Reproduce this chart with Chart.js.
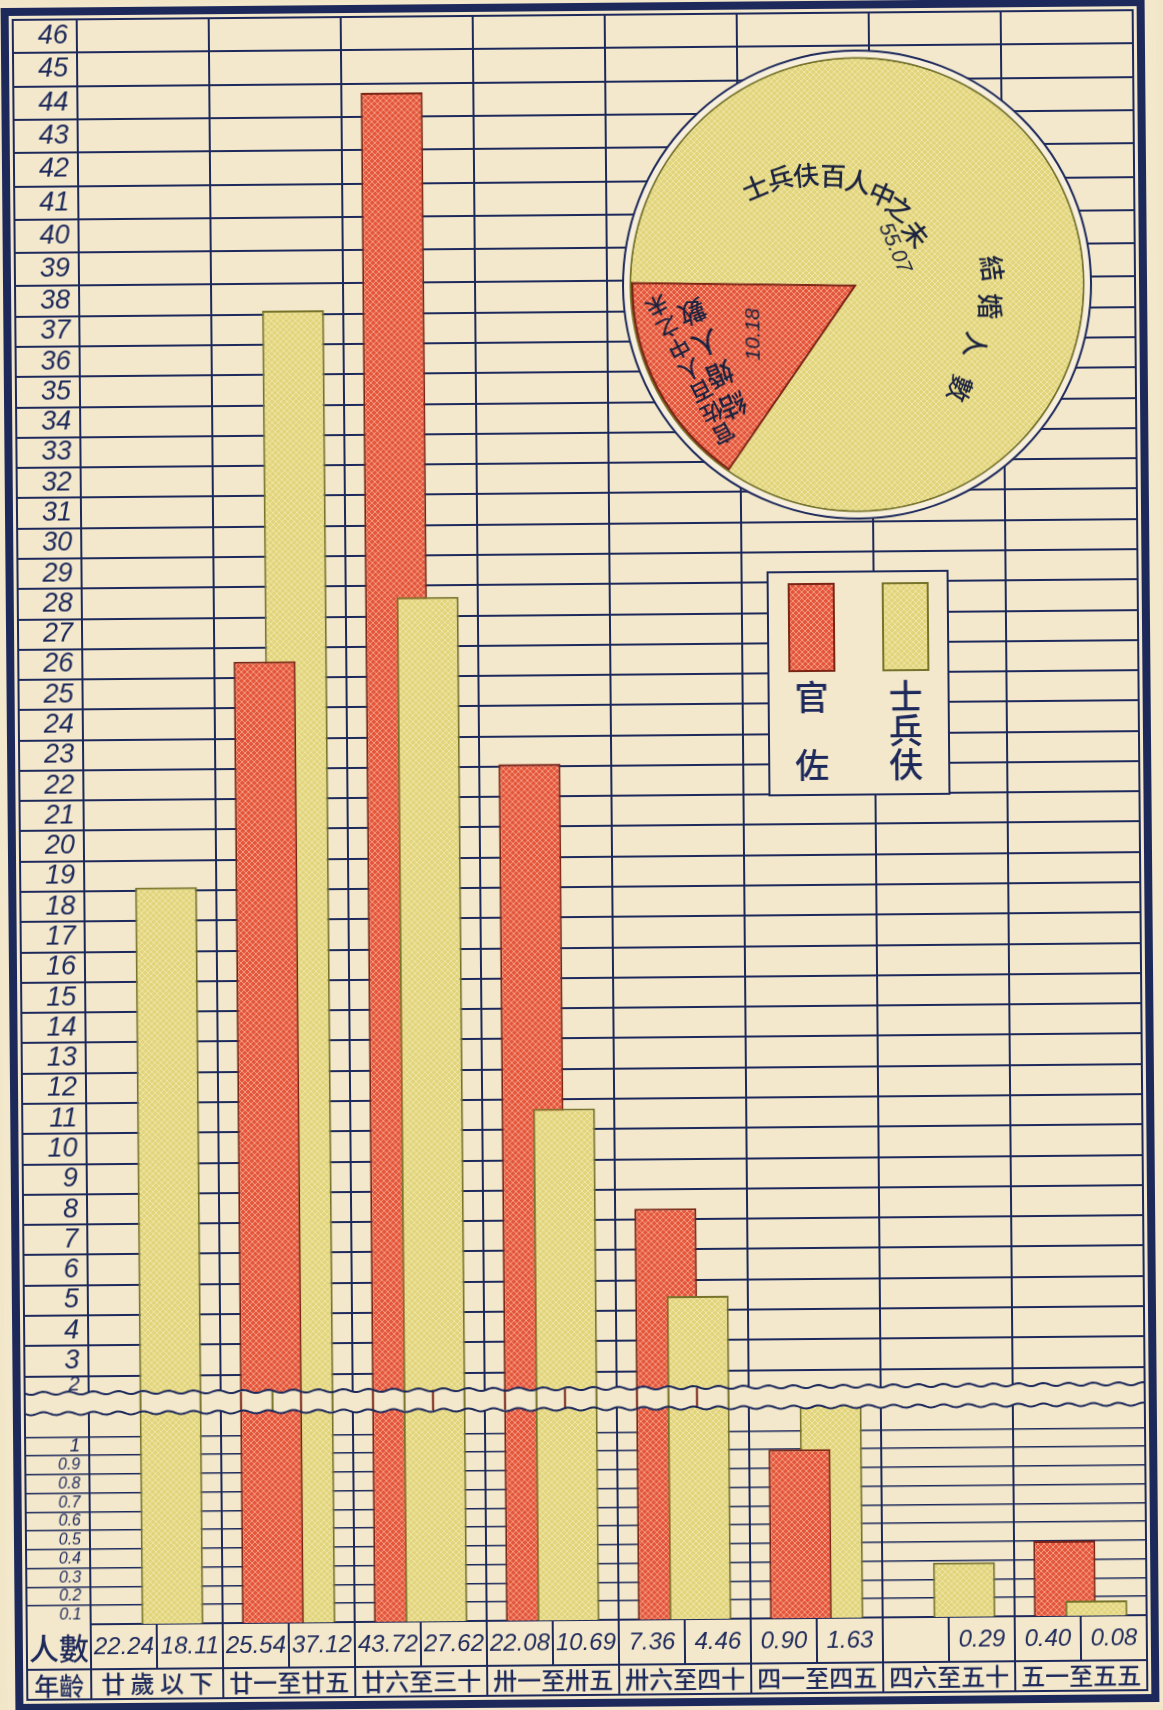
<!DOCTYPE html>
<html lang="zh-Hant">
<head>
<meta charset="utf-8">
<title>官佐士兵伕年齡別未結婚人數</title>
<script src="https://cdn.jsdelivr.net/npm/chart.js@4.4.1/dist/chart.umd.min.js"></script>
<style>
  html, body { margin: 0; padding: 0; background: #f2e6c9; overflow: hidden; }
  #sheet { position: relative; width: 1163px; height: 1710px; background: #f3e8cc;
           transform: rotate(-0.5deg); transform-origin: 50% 50%; }
  #bars { position: absolute; left: 0; top: 0; }
  #pie  { position: absolute; left: 622px; top: 47px; }
</style>
</head>
<body>
<div id="sheet">
  <canvas id="bars" width="1163" height="1710"></canvas>
  <canvas id="pie" width="480" height="480"></canvas>
</div>
<script>
// ---- data ---------------------------------------------------------------
const ageGroups = ['廿歲以下', '廿一至廿五', '廿六至三十', '卅一至卅五', '卅六至四十', '四一至四五', '四六至五十', '五一至五五'];
const seriesNames = ['官佐', '士兵伕'];
// unmarried persons per hundred, by age group (null = no entry)
const officers = [22.24, 25.54, 43.72, 22.08, 7.36, 0.90, null, 0.40];
const soldiers = [18.11, 37.12, 27.62, 10.69, 4.46, 1.63, 0.29, 0.08];
// unmarried per hundred overall: officers, soldiers
const unmarriedPerHundred = [10.18, 55.07];
// value axis, drawn in two parts around a break
const lowerTicks = [0.1, 0.2, 0.3, 0.4, 0.5, 0.6, 0.7, 0.8, 0.9, 1];
const upperTicks = [2, 3, 4, 5, 6, 7, 8, 9, 10, 11, 12, 13, 14, 15, 16, 17, 18, 19, 20, 21, 22, 23, 24,
                    25, 26, 27, 28, 29, 30, 31, 32, 33, 34, 35, 36, 37, 38, 39, 40, 41, 42, 43, 44, 45, 46];

// ---- look ---------------------------------------------------------------
const NAVY = '#1d295b';
const PAPER = '#f3e8cc';
const RED = '#e4563b', RED_LIGHT = '#f39c82', RED_EDGE = '#7a2516';
const YEL = '#e2d47a', YEL_LIGHT = '#eee5a8', YEL_EDGE = '#76732a';
const CJK = '"Noto Sans CJK TC", "Noto Sans CJK SC", sans-serif';
const HAND = '"Liberation Sans", "DejaVu Sans", sans-serif';

// the under-twenty officer column carries no bar on this plate
const officerBars = officers.map((v, i) => (i === 0 ? null : v));
// which series overlaps the other inside each age group (0 officers, 1 soldiers)
const frontSeries = [1, 0, 1, 1, 1, 0, 1, 1];

function lattice(ctx, base, line) {
  const c = document.createElement('canvas');
  c.width = c.height = 6;
  const g = c.getContext('2d');
  g.fillStyle = base; g.fillRect(0, 0, 6, 6);
  g.strokeStyle = line; g.lineWidth = 1;
  g.beginPath(); g.moveTo(0, 0); g.lineTo(6, 6); g.moveTo(6, 0); g.lineTo(0, 6); g.stroke();
  return ctx.createPattern(c, 'repeat');
}

// ---- a linear scale with a break between 1 and 2 --------------------------
class BrokenScale extends Chart.LinearScale {
  determineDataLimits() { this.min = this.options.min; this.max = this.options.max; }
  buildTicks() { return this.options.tickValues.map(v => ({ value: v })); }
  fraction(v) {
    const a = this.options.anchors;
    if (v <= a[0][0]) return a[0][1];
    for (let i = 1; i < a.length; i++) {
      if (v <= a[i][0]) {
        const [v0, f0] = a[i - 1], [v1, f1] = a[i];
        return f0 + (v - v0) / (v1 - v0) * (f1 - f0);
      }
    }
    return a[a.length - 1][1];
  }
  getPixelForValue(v) {
    if (v === null || v === undefined || isNaN(v)) return NaN;
    return this.bottom - this.fraction(v) * (this.bottom - this.top);
  }
  getValueForPixel(p) {
    const f = (this.bottom - p) / (this.bottom - this.top);
    const a = this.options.anchors;
    for (let i = 1; i < a.length; i++) {
      if (f <= a[i][1]) {
        const [v0, f0] = a[i - 1], [v1, f1] = a[i];
        return v0 + (f - f0) / (f1 - f0) * (v1 - v0);
      }
    }
    return a[a.length - 1][0];
  }
  bandPixels() {
    const [f0, f1] = this.options.band;
    const h = this.bottom - this.top;
    return [this.bottom - f1 * h, this.bottom - f0 * h];
  }
  // each number sits in the row just below its own rule
  _computeLabelItems(chartArea) {
    const items = super._computeLabelItems(chartArea);
    const [bandTop] = this.bandPixels();
    items.forEach((item, i) => {
      const v = this.ticks[i].value;
      const below = i === 0 ? this.getPixelForValue(this.min)
        : (v === this.options.breakTo ? bandTop : this.getPixelForValue(this.ticks[i - 1].value));
      const o = item.options;
      if (o && o.translation) {
        o.translation = [this.right - 9, (this.getPixelForValue(v) + below) / 2];
        o.textAlign = 'right';
        o.textBaseline = 'middle';
      }
    });
    return items;
  }
}
BrokenScale.id = 'broken';
BrokenScale.defaults = {};
Chart.register(BrokenScale);

// ---- plugins --------------------------------------------------------------
const barOrder = {
  id: 'barOrder',
  beforeDatasetDraw() { return false; },
  afterDatasetsDraw(chart) {
    const ctx = chart.ctx;
    const metas = chart.data.datasets.map((d, s) => chart.getDatasetMeta(s));
    ageGroups.forEach((g, i) => {
      const front = frontSeries[i];
      [1 - front, front].forEach(s => {
        if (chart.data.datasets[s].data[i] != null) metas[s].data[i].draw(ctx);
      });
    });
  }
};

function wavy(ctx, x0, x1, y) {
  ctx.moveTo(x0, y);
  for (let x = x0; x <= x1; x += 2) ctx.lineTo(x, y + 1.5 * Math.sin((x - x0) / 25 * Math.PI * 2));
}

const breakBand = {
  id: 'breakBand',
  afterDatasetsDraw(chart) {
    const ctx = chart.ctx, y = chart.scales.y;
    const [top, bottom] = y.bandPixels();
    const L = 20, R = chart.chartArea.right;
    ctx.save();
    ctx.fillStyle = PAPER;
    ctx.beginPath();
    wavy(ctx, L, R, top);
    ctx.lineTo(R, bottom);
    for (let x = R; x >= L; x -= 2) ctx.lineTo(x, bottom + 1.5 * Math.sin((x - L) / 25 * Math.PI * 2));
    ctx.closePath();
    ctx.fill();
    // bar sides carried through the gap
    chart.data.datasets.forEach((d, s) => {
      chart.getDatasetMeta(s).data.forEach((el, i) => {
        if (d.data[i] == null || el.y > top) return;
        ctx.strokeStyle = d.borderColor; ctx.lineWidth = 2;
        ctx.beginPath();
        ctx.moveTo(el.x - el.width / 2 + 1, top); ctx.lineTo(el.x - el.width / 2 + 1, bottom);
        ctx.moveTo(el.x + el.width / 2 - 1, top); ctx.lineTo(el.x + el.width / 2 - 1, bottom);
        ctx.stroke();
      });
    });
    ctx.strokeStyle = NAVY; ctx.lineWidth = 2;
    ctx.beginPath(); wavy(ctx, L, R, top); ctx.stroke();
    ctx.beginPath(); wavy(ctx, L, R, bottom); ctx.stroke();
    ctx.restore();
  }
};

const countTable = {
  id: 'countTable',
  afterDraw(chart) {
    const ctx = chart.ctx, x = chart.scales.x, area = chart.chartArea;
    const rowTop = area.bottom, rowMid = 1665, rowBot = 1695;
    const half = (x.getPixelForValue(1) - x.getPixelForValue(0)) / 2;
    ctx.save();
    ctx.strokeStyle = NAVY; ctx.lineWidth = 2;
    ctx.beginPath();
    ctx.moveTo(20, rowMid); ctx.lineTo(area.right, rowMid);
    ageGroups.forEach((g, i) => {
      const cx = x.getPixelForValue(i);
      ctx.moveTo(cx, rowTop); ctx.lineTo(cx, rowMid);
    });
    ctx.stroke();
    ctx.fillStyle = NAVY;
    ctx.textAlign = 'center'; ctx.textBaseline = 'middle';
    ctx.font = 'italic 24px ' + HAND;
    ageGroups.forEach((g, i) => {
      const cx = x.getPixelForValue(i);
      if (officers[i] != null) ctx.fillText(officers[i].toFixed(2), cx - half / 2, (rowTop + rowMid) / 2 + 1);
      if (soldiers[i] != null) ctx.fillText(soldiers[i].toFixed(2), cx + half / 2, (rowTop + rowMid) / 2 + 1);
    });
    ctx.font = '500 30px ' + CJK;
    ctx.fillText('人數', 52, (rowTop + rowMid) / 2 + 1);
    ctx.font = '500 25px ' + CJK;
    ctx.fillText('年齡', 52, (rowMid + rowBot) / 2 + 1);
    // frame of the sheet
    ctx.lineWidth = 2;
    ctx.strokeRect(20, 15, area.right - 20, rowBot - 15);
    ctx.lineWidth = 8;
    ctx.strokeRect(12, 7, 1136, 1696);
    ctx.restore();
  }
};

const legendBox = {
  id: 'legendBox',
  afterDraw(chart) {
    const ctx = chart.ctx;
    const box = { x: 770, y: 574, w: 180, h: 223 };
    const cols = [813, 907];
    ctx.save();
    ctx.fillStyle = PAPER;
    ctx.fillRect(box.x, box.y, box.w, box.h);
    ctx.strokeStyle = NAVY; ctx.lineWidth = 2;
    ctx.strokeRect(box.x, box.y, box.w, box.h);
    chart.data.datasets.forEach((d, s) => {
      const cx = cols[s];
      ctx.fillStyle = d.backgroundColor;
      ctx.fillRect(cx - 22, 586, 45, 87);
      ctx.strokeStyle = d.borderColor; ctx.lineWidth = 2;
      ctx.strokeRect(cx - 22, 586, 45, 87);
      ctx.fillStyle = NAVY;
      ctx.font = '500 34px ' + CJK;
      ctx.textAlign = 'center'; ctx.textBaseline = 'middle';
      const chars = [...d.label], top = 699, bot = 767;
      chars.forEach((ch, k) => ctx.fillText(ch, cx, top + k * (bot - top) / (chars.length - 1)));
    });
    ctx.restore();
  }
};

// ---- bar chart ----------------------------------------------------------------
const barCtx = document.getElementById('bars').getContext('2d');
const redFill = lattice(barCtx, RED, RED_LIGHT);
const yelFill = lattice(barCtx, YEL, YEL_LIGHT);

function tickFont(c) {
  const v = c.tick ? c.tick.value : 10;
  const size = v < 1 ? 16 : (v === 1 ? 19 : (v === 2 ? 20 : 27));
  return { family: HAND, style: 'italic', size };
}

new Chart(barCtx, {
  type: 'bar',
  data: {
    labels: ageGroups,
    datasets: [
      { label: seriesNames[0], data: officerBars, backgroundColor: redFill, borderColor: RED_EDGE, borderWidth: 2 },
      { label: seriesNames[1], data: soldiers, backgroundColor: yelFill, borderColor: YEL_EDGE, borderWidth: 2 }
    ]
  },
  options: {
    responsive: false, animation: false, events: [], devicePixelRatio: 1,
    layout: { padding: { left: 20, right: 23, top: 15, bottom: 15 } },
    datasets: { bar: { categoryPercentage: 0.477, barPercentage: 1.97 } },
    plugins: { legend: { display: false }, tooltip: { enabled: false }, title: { display: false } },
    scales: {
      x: {
        type: 'category', offset: true, z: 1,
        grid: { offset: true, color: NAVY, lineWidth: 2, drawTicks: true, tickLength: 75, tickColor: NAVY },
        border: { display: true, color: NAVY, width: 2 },
        ticks: {
          autoSkip: false, maxRotation: 0, minRotation: 0, padding: -30, color: NAVY,
          font: { family: CJK, size: 24, weight: '500' },
          callback: (v, i) => (ageGroups[i].length === 4 ? [...ageGroups[i]].join(' ') : ageGroups[i])
        },
        afterFit: s => { s.height = 75; s.paddingLeft = 0; s.paddingRight = 0; }
      },
      y: {
        type: 'broken', position: 'left', min: 0, max: 46, z: 1,
        tickValues: lowerTicks.concat(upperTicks),
        breakTo: 2,
        // value → share of the plot height
        anchors: [[0, 0], [1, 0.1168], [2, 0.1548], [38, 0.8340], [46, 1]],
        band: [0.1315, 0.1442],
        grid: {
          color: NAVY, drawTicks: true, tickLength: 64, tickColor: NAVY,
          lineWidth: c => (c.tick && c.tick.value <= 1 ? 1.6 : 2)
        },
        border: { display: true, color: NAVY, width: 2 },
        ticks: {
          autoSkip: false, color: NAVY,
          font: tickFont,
          callback: v => (v < 1 ? v.toFixed(1) : String(v))
        },
        afterFit: s => { s.width = 64; s.paddingTop = 0; s.paddingBottom = 0; }
      }
    }
  },
  plugins: [barOrder, breakBand, countTable, legendBox]
});

// ---- pie -------------------------------------------------------------------
const pieCtx = document.getElementById('pie').getContext('2d');
const soldierTitle = '士兵伕百人中之未結婚人數';
const officerTitle = ['官佐百人中之未', '結婚人數'];
// glyph placement around the pie centre: [dx, dy, rotation in degrees]
const soldierGlyphs = [[-101, -98, -22], [-76, -107, -14], [-50, -110, -6], [-23, -109, 2], [2, -103, 12],
  [26, -90, 24], [43, -76, 36], [59, -50, 52], [135, -15, 82], [133, 23, 90], [118, 61, 100], [102, 105, 110]];

function column(ctx, text, x, y, deg, step) {
  ctx.save();
  ctx.translate(x, y);
  ctx.rotate(deg * Math.PI / 180);
  [...text].forEach((ch, k) => ctx.fillText(ch, 0, k * step));
  ctx.restore();
}

const pieFrame = {
  id: 'pieFrame',
  beforeDatasetsDraw(chart) {
    const arc = chart.getDatasetMeta(0).data[0];
    const ctx = chart.ctx;
    ctx.save();
    ctx.beginPath(); ctx.arc(arc.x, arc.y, arc.outerRadius + 8, 0, Math.PI * 2);
    ctx.fillStyle = '#f7efdc'; ctx.fill();
    ctx.strokeStyle = NAVY; ctx.lineWidth = 2; ctx.stroke();
    ctx.beginPath(); ctx.arc(arc.x, arc.y, arc.outerRadius + 0.5, 0, Math.PI * 2);
    ctx.strokeStyle = YEL_EDGE; ctx.lineWidth = 2; ctx.stroke();
    ctx.restore();
  },
  afterDraw(chart) {
    const arc = chart.getDatasetMeta(0).data[0];
    const ctx = chart.ctx, cx = arc.x, cy = arc.y;
    ctx.save();
    ctx.fillStyle = '#1b2340';
    ctx.textAlign = 'center'; ctx.textBaseline = 'middle';
    ctx.font = '500 26px ' + CJK;
    [...soldierTitle].forEach((ch, k) => {
      const [dx, dy, r] = soldierGlyphs[k];
      ctx.save(); ctx.translate(cx + dx, cy + dy); ctx.rotate(r * Math.PI / 180);
      ctx.fillText(ch, 0, 0); ctx.restore();
    });
    ctx.font = 'italic 21px ' + HAND;
    ctx.save(); ctx.translate(cx + 38, cy - 36); ctx.rotate(67 * Math.PI / 180);
    ctx.fillText(unmarriedPerHundred[1].toFixed(2), 0, 0); ctx.restore();
    // officers' caption inside the red slice
    ctx.font = '500 22px ' + CJK;
    column(ctx, officerTitle[0], cx - 135, cy + 148, 153, 24);
    ctx.font = '500 27px ' + CJK;
    column(ctx, officerTitle[1], cx - 125, cy + 120, 157, 34);
    ctx.font = 'italic 21px ' + HAND;
    ctx.save(); ctx.translate(cx - 104, cy + 49); ctx.rotate(-90 * Math.PI / 180);
    ctx.fillText(unmarriedPerHundred[0].toFixed(2), 0, 0); ctx.restore();
    ctx.restore();
  }
};

new Chart(pieCtx, {
  type: 'pie',
  data: {
    labels: seriesNames,
    datasets: [{
      data: unmarriedPerHundred,
      backgroundColor: [lattice(pieCtx, RED, RED_LIGHT), lattice(pieCtx, YEL, YEL_LIGHT)],
      borderColor: [RED_EDGE, YEL_EDGE],
      borderWidth: [2, 0],
      borderAlign: 'inner'
    }]
  },
  options: {
    responsive: false, animation: false, events: [], devicePixelRatio: 1,
    rotation: 215,
    layout: { padding: 14 },
    plugins: { legend: { display: false }, tooltip: { enabled: false } }
  },
  plugins: [pieFrame]
});
</script>
</body>
</html>
